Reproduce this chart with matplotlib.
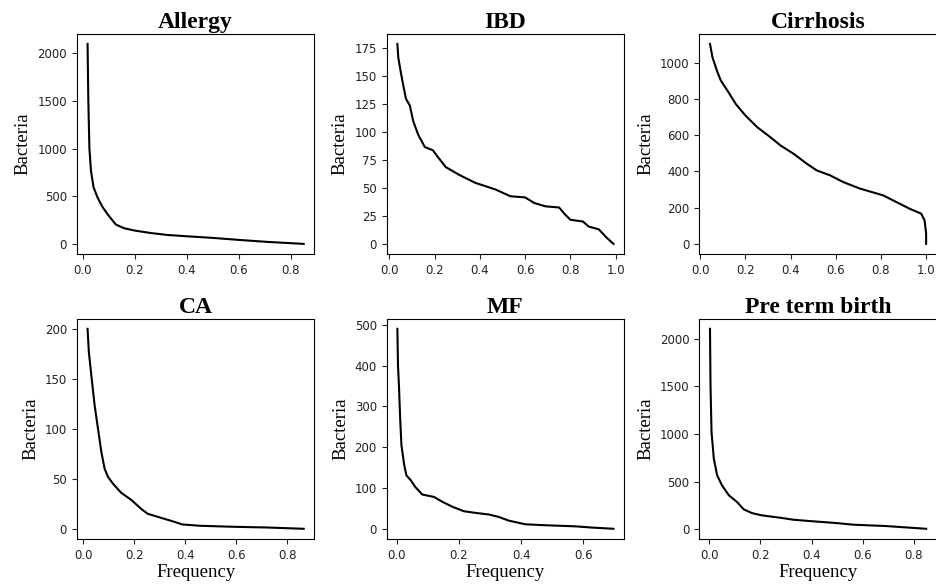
import matplotlib
matplotlib.use("Agg")
import matplotlib.pyplot as plt
from matplotlib.ticker import MultipleLocator

serif = "Liberation Serif"

titles = ["Allergy", "IBD", "Cirrhosis", "CA", "MF", "Pre term birth"]

allergy_freq = [0.019, 0.022, 0.026, 0.032, 0.042, 0.057, 0.077, 0.1, 0.128, 0.16,
                0.2, 0.26, 0.325, 0.4, 0.5, 0.6, 0.71, 0.85]
allergy_bact = [2100, 1500, 1010, 770, 595, 490, 385, 297, 203, 164,
                140, 115, 94, 80, 63, 42, 21, 0]

ibd_freq = [0.036, 0.04, 0.05, 0.062, 0.074, 0.091, 0.106, 0.128, 0.157, 0.193, 0.215,
            0.25, 0.31, 0.38, 0.47, 0.535, 0.6, 0.64, 0.69, 0.75, 0.775, 0.8, 0.855,
            0.88, 0.925, 0.96, 0.99]
ibd_bact = [179, 167, 155, 142, 130, 124, 110, 98, 87, 84, 78,
            69, 62, 55, 49, 43, 42, 37, 34, 33, 27, 22, 20.5,
            16, 13.5, 6, 0.5]

cirr_freq = [0.043, 0.054, 0.076, 0.091, 0.12, 0.157, 0.2, 0.252, 0.31, 0.355, 0.413,
             0.472, 0.516, 0.575, 0.633, 0.707, 0.809, 0.868, 0.927, 0.978, 0.993,
             1.0, 1.0]
cirr_bact = [1103, 1029, 947, 901, 846, 772, 708, 644, 589, 543, 497,
             442, 405, 378, 341, 305, 268, 231, 194, 167, 130,
             57, 0]

ca_freq = [0.017, 0.022, 0.032, 0.045, 0.058, 0.071, 0.084, 0.097, 0.117, 0.149, 0.188,
           0.227, 0.253, 0.305, 0.357, 0.389, 0.46, 0.59, 0.72, 0.865]
ca_bact = [200, 177, 153, 123, 100, 77, 60, 52, 45, 36, 29,
           20, 15, 11, 7, 4.3, 3, 2, 1.3, 0]

mf_freq = [0.002, 0.004, 0.007, 0.011, 0.015, 0.024, 0.031, 0.045, 0.059, 0.082, 0.12,
           0.147, 0.179, 0.216, 0.253, 0.296, 0.328, 0.36, 0.414, 0.467, 0.574, 0.628,
           0.697]
mf_bact = [490, 400, 352, 270, 205, 156, 131, 119, 103, 84, 78,
           66, 54, 43, 39, 35, 29, 20, 11, 9, 6, 3,
           0]

ptb_freq = [0.003, 0.005, 0.009, 0.018, 0.031, 0.05, 0.077, 0.109, 0.135, 0.167, 0.206,
            0.278, 0.33, 0.394, 0.498, 0.563, 0.69, 0.848]
ptb_bact = [2105, 1510, 1019, 739, 564, 459, 354, 284, 207, 168, 144,
            119, 98, 84, 63, 46, 32, 3]

freqs = [allergy_freq, ibd_freq, cirr_freq, ca_freq, mf_freq, ptb_freq]
bacts = [allergy_bact, ibd_bact, cirr_bact, ca_bact, mf_bact, ptb_bact]
ystep = [500, 25, 200, 50, 100, 500]

fig = plt.figure(figsize=(9.36, 5.85), dpi=100)

lefts = [0.082, 0.413, 0.747]
bottoms = [0.566, 0.079]
w, h = 0.254, 0.376

for i in range(6):
    row, col = divmod(i, 3)
    ax = fig.add_axes([lefts[col], bottoms[row], w, h])
    ax.plot(freqs[i], bacts[i], color="black", lw=1.5)
    ax.yaxis.set_major_locator(MultipleLocator(ystep[i]))
    ax.xaxis.set_major_locator(MultipleLocator(0.2))
    ax.tick_params(labelsize=8.5, colors="#222222")
    ax.set_title(titles[i], family=serif, fontweight="bold", fontsize=17, pad=4)
    ax.set_ylabel("Bacteria", family=serif, fontsize=13.5)
    if row == 1:
        ax.set_xlabel("Frequency", family=serif, fontsize=13.5, labelpad=2)

fig.savefig("out.png", dpi=100)
